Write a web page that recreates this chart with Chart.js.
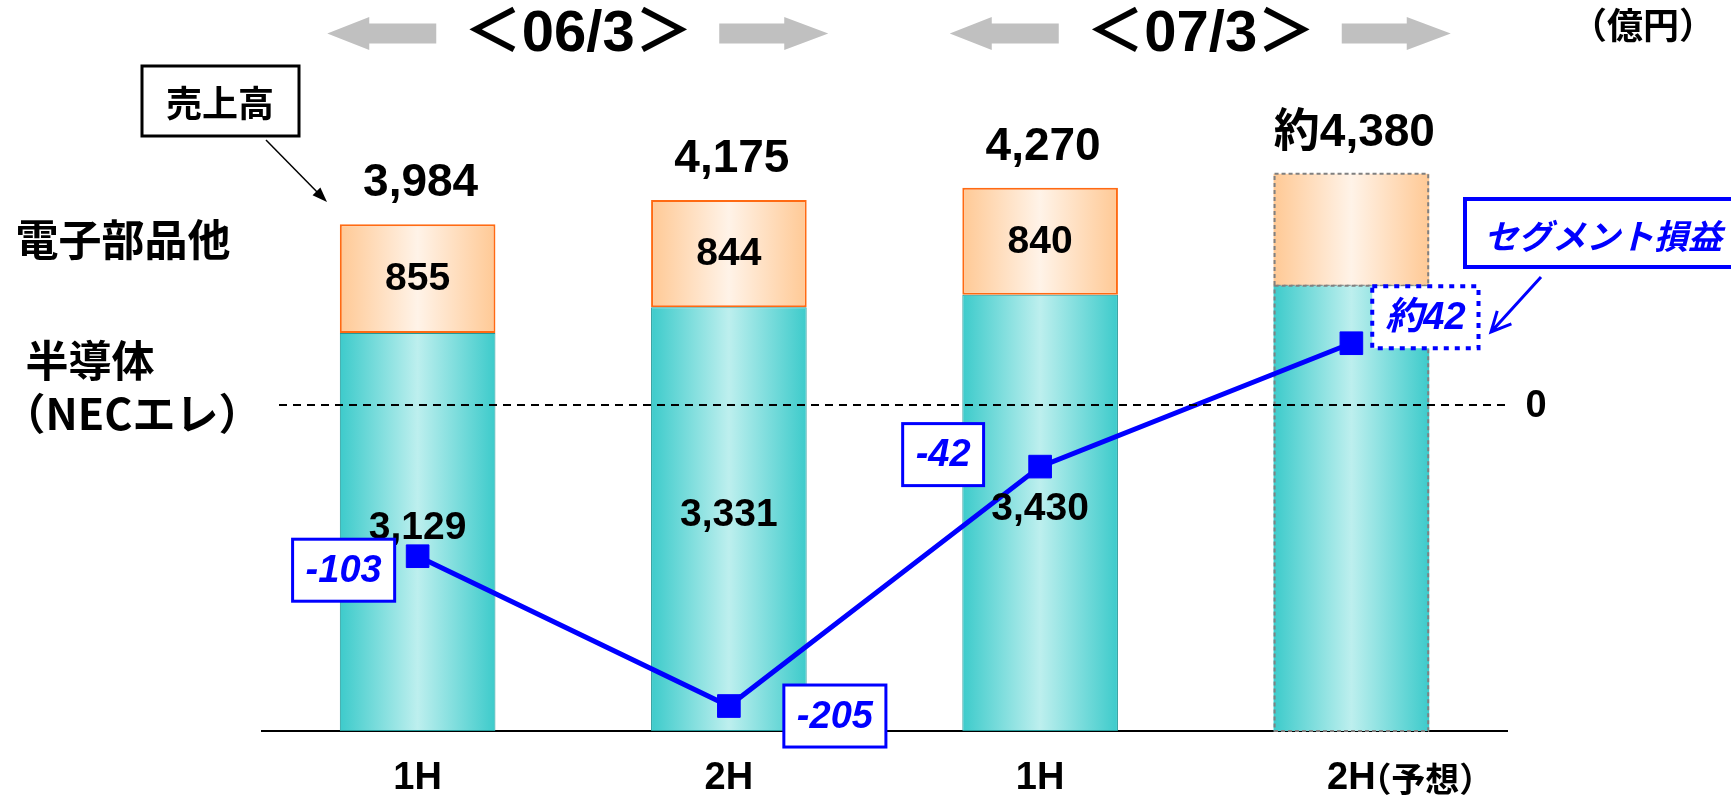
<!DOCTYPE html>
<html>
<head>
<meta charset="utf-8">
<script src="https://cdn.jsdelivr.net/npm/chart.js@4.4.1/dist/chart.umd.min.js"></script>
<style>
  html, body { margin: 0; padding: 0; background: #fff; }
  canvas { display: block; }
</style>
</head>
<body>
<canvas id="graphic" width="1731" height="798"></canvas>
<script>
// data (億円)
var categories = ['1H', '2H', '1H', '2H'];
var periods = ['＜06/3＞', '＜07/3＞'];
var semiconductor = [3129, 3331, 3430, 3500];
var components = [855, 844, 840, 880];
var segmentProfit = [-103, -205, -42, 42];
var profitLabels = ['-103', '-205', '-42', '約42'];
var forecastIndex = 3;
var forecastNote = '（予想）';

// label box placement relative to each marker
var profitBoxOffsets = [[-74, 14], [106, 10], [-97, -12], [74, -26]];

var NUM = "'Liberation Sans', 'Noto Sans CJK JP', sans-serif";
var JP = "'Noto Sans CJK JP', 'Liberation Sans', sans-serif";
var BLUE = '#0000ff';

function barGradient(edge, mid) {
    return function (c) {
        var chart = c.chart;
        var xs = chart.scales.x;
        if (!chart.chartArea || !xs) return edge;
        var cx = xs.getPixelForValue(c.dataIndex);
        var half = xs.width / categories.length * 0.5 / 2;
        var g = chart.ctx.createLinearGradient(cx - half, 0, cx + half, 0);
        g.addColorStop(0, edge);
        g.addColorStop(0.5, mid);
        g.addColorStop(1, edge);
        return g;
    };
}

function txt(ctx, s, x, y, font, color, align) {
    ctx.font = font;
    ctx.fillStyle = color;
    ctx.textAlign = align || 'center';
    ctx.textBaseline = 'middle';
    ctx.fillText(s, x, y);
}

function grayArrow(ctx, tip, base, end, cy) {
    ctx.beginPath();
    ctx.moveTo(tip, cy);
    ctx.lineTo(base, cy - 16.5);
    ctx.lineTo(base, cy - 10);
    ctx.lineTo(end, cy - 10);
    ctx.lineTo(end, cy + 10);
    ctx.lineTo(base, cy + 10);
    ctx.lineTo(base, cy + 16.5);
    ctx.closePath();
    ctx.fill();
}

var annotations = {
    id: 'annotations',
    afterDatasetDraw: function (chart, args) {
        if (args.meta.type !== 'bar') return;
        // forecast bar is outlined with a dashed gray line
        var el = args.meta.data[forecastIndex];
        var ctx = chart.ctx;
        ctx.save();
        ctx.strokeStyle = '#808080';
        ctx.lineWidth = 2;
        ctx.setLineDash([4, 3]);
        ctx.strokeRect(el.x - el.width / 2 + 1, el.y, el.width - 2, el.base - el.y);
        ctx.restore();
    },
    afterDraw: function (chart) {
        var ctx = chart.ctx;
        var xs = chart.scales.x;
        var y1 = chart.scales.y1;
        var area = chart.chartArea;
        var teal = chart.getDatasetMeta(0).data;
        var orange = chart.getDatasetMeta(1).data;
        var pts = chart.getDatasetMeta(2).data;
        ctx.save();

        // zero line of segment profit
        var zy = y1.getPixelForValue(0);
        ctx.strokeStyle = '#000';
        ctx.lineWidth = 2;
        ctx.setLineDash([8, 6]);
        ctx.beginPath();
        ctx.moveTo(279, zy);
        ctx.lineTo(area.right, zy);
        ctx.stroke();
        ctx.setLineDash([]);
        txt(ctx, '0', area.right + 29, zy + 2, 'bold 38px ' + NUM, '#000');

        // bar values
        for (var i = 0; i < categories.length; i++) {
            var total = semiconductor[i] + components[i];
            var s = total.toLocaleString('en-US');
            if (i === forecastIndex) s = '約' + s;
            txt(ctx, s, orange[i].x + 3, orange[i].y - 41, 'bold 46px ' + NUM, '#000');
            if (i === forecastIndex) continue;
            txt(ctx, components[i].toLocaleString('en-US'), orange[i].x, (orange[i].y + orange[i].base) / 2 + 1, 'bold 39px ' + NUM, '#000');
            txt(ctx, semiconductor[i].toLocaleString('en-US'), teal[i].x, (teal[i].y + teal[i].base) / 2 - 4, 'bold 39px ' + NUM, '#000');
        }

        // segment profit boxes
        ctx.font = 'italic bold 38px ' + NUM;
        for (var j = 0; j < pts.length; j++) {
            var cx = pts[j].x + profitBoxOffsets[j][0];
            var cy = pts[j].y + profitBoxOffsets[j][1];
            var w = ctx.measureText(profitLabels[j]).width + 26;
            var h = 62;
            ctx.fillStyle = '#fff';
            ctx.fillRect(cx - w / 2, cy - h / 2, w, h);
            ctx.strokeStyle = BLUE;
            if (j === forecastIndex) {
                ctx.lineWidth = 4;
                ctx.setLineDash([5, 6]);
            } else {
                ctx.lineWidth = 3;
            }
            ctx.strokeRect(cx - w / 2, cy - h / 2, w, h);
            ctx.setLineDash([]);
            txt(ctx, profitLabels[j], cx, cy + 1, 'italic bold 38px ' + NUM, BLUE);
        }

        // forecast note next to the last tick
        txt(ctx, forecastNote, xs.getPixelForValue(forecastIndex) + 6, 779, 'bold 34px ' + JP, '#000', 'left');

        // period headers with gray arrows
        ctx.fillStyle = '#c0c0c0';
        for (var k = 0; k < periods.length; k++) {
            var c = (xs.getPixelForValue(2 * k) + xs.getPixelForValue(2 * k + 1)) / 2 + 5;
            grayArrow(ctx, c - 251, c - 209, c - 142, 33.5);
            grayArrow(ctx, c + 250, c + 206, c + 141, 33.5);
        }
        for (k = 0; k < periods.length; k++) {
            c = (xs.getPixelForValue(2 * k) + xs.getPixelForValue(2 * k + 1)) / 2 + 5;
            txt(ctx, periods[k], c, 35, 'bold 58px ' + NUM, '#000');
        }
        txt(ctx, '（億円）', 1643, 25, 'bold 36px ' + JP, '#000');

        // row captions
        txt(ctx, '電子部品他', 123, 240, 'bold 43px ' + JP, '#000');
        txt(ctx, '半導体', 90, 361, 'bold 43px ' + JP, '#000');
        txt(ctx, '（NECエレ）', 132, 414, 'bold 43px ' + JP, '#000');

        // 売上高 callout
        ctx.strokeStyle = '#000';
        ctx.lineWidth = 3;
        ctx.strokeRect(142, 66, 157, 70);
        txt(ctx, '売上高', 220, 103, 'bold 36px ' + JP, '#000');
        ctx.lineWidth = 1.5;
        ctx.beginPath();
        ctx.moveTo(266, 140);
        ctx.lineTo(322, 197);
        ctx.stroke();
        var ang = Math.atan2(202 - 140, 327 - 266);
        ctx.fillStyle = '#000';
        ctx.beginPath();
        ctx.moveTo(327, 202);
        ctx.lineTo(327 - 16 * Math.cos(ang - 0.35), 202 - 16 * Math.sin(ang - 0.35));
        ctx.lineTo(327 - 16 * Math.cos(ang + 0.35), 202 - 16 * Math.sin(ang + 0.35));
        ctx.closePath();
        ctx.fill();

        // セグメント損益 callout
        ctx.fillStyle = '#fff';
        ctx.fillRect(1465, 199, 270, 68);
        ctx.strokeStyle = BLUE;
        ctx.lineWidth = 4;
        ctx.strokeRect(1465, 199, 270, 68);
        txt(ctx, 'セグメント損益', 1603, 236, 'italic bold 34px ' + JP, BLUE);
        ctx.lineWidth = 3;
        ctx.beginPath();
        ctx.moveTo(1541, 277);
        ctx.lineTo(1491, 332);
        var a2 = Math.atan2(332 - 277, 1491 - 1541);
        ctx.moveTo(1491 - 22 * Math.cos(a2 - 0.45), 332 - 22 * Math.sin(a2 - 0.45));
        ctx.lineTo(1491, 332);
        ctx.lineTo(1491 - 22 * Math.cos(a2 + 0.45), 332 - 22 * Math.sin(a2 + 0.45));
        ctx.stroke();

        ctx.restore();
    }
};

var chartGraph = new Chart(document.getElementById('graphic'), {
    type: 'bar',
    data: {
        labels: categories,
        datasets: [{
            label: '半導体（NECエレ）',
            data: semiconductor,
            backgroundColor: barGradient('#3dcbcb', '#bdefee'),
            borderColor: '#229999',
            borderWidth: [1, 1, 1, 0],
            borderSkipped: false,
            categoryPercentage: 0.5,
            barPercentage: 1
        }, {
            label: '電子部品他',
            data: components,
            backgroundColor: barGradient('#ffc995', '#fff3e8'),
            borderColor: '#ff6a13',
            borderWidth: [2, 2, 2, 0],
            borderSkipped: false,
            categoryPercentage: 0.5,
            barPercentage: 1
        }, {
            type: 'line',
            label: 'セグメント損益',
            data: segmentProfit,
            yAxisID: 'y1',
            order: -1,
            borderColor: BLUE,
            borderWidth: 5,
            pointStyle: 'rect',
            pointRadius: 16,
            pointBorderWidth: 1,
            pointBackgroundColor: BLUE,
            pointBorderColor: BLUE,
            tension: 0
        }]
    },
    options: {
        responsive: false,
        devicePixelRatio: 1,
        animation: false,
        layout: { padding: { left: 262, right: 224, top: 95, bottom: 0 } },
        plugins: {
            legend: { display: false },
            tooltip: { enabled: false },
            title: { display: false }
        },
        scales: {
            x: {
                stacked: true,
                grid: { display: false, drawTicks: false },
                border: { display: true, color: '#000', width: 2 },
                ticks: {
                    color: '#000',
                    font: { family: NUM, size: 38, weight: 'bold', lineHeight: 1.2 },
                    padding: 25,
                    maxRotation: 0,
                    autoSkip: false
                },
                afterFit: function (scale) { scale.height = 67; }
            },
            y: {
                display: false,
                stacked: true,
                min: 0,
                max: 5000
            },
            y1: {
                display: false,
                position: 'right',
                min: -222,
                max: 211
            }
        }
    },
    plugins: [annotations]
});
</script>
</body>
</html>
